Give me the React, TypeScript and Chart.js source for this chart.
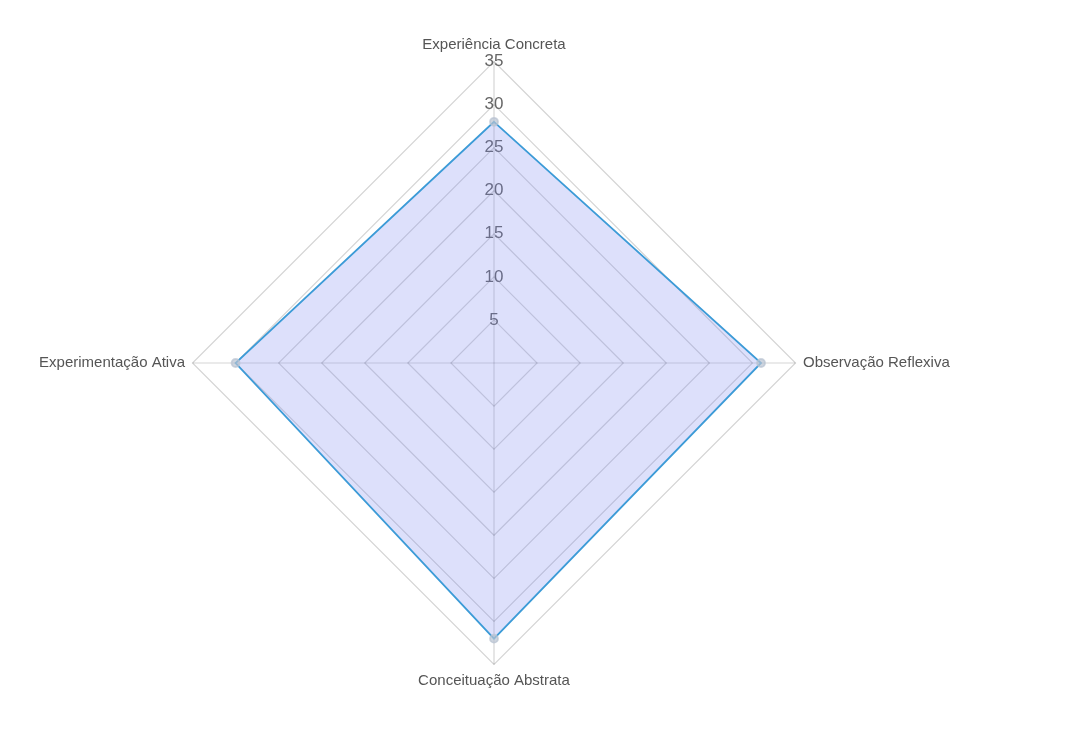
import React, { useEffect, useRef } from "react";
import { Chart, registerables } from "chart.js";

Chart.register(...registerables);

const labels = [
  "Experiência Concreta",
  "Observação Reflexiva",
  "Conceituação Abstrata",
  "Experimentação Ativa",
];
const values = [28, 31, 32, 30];
const tickMax = 35;
const tickStep = 5;

export default function App() {
  const ref = useRef<HTMLCanvasElement>(null);
  useEffect(() => {
    if (!ref.current) return;
    const chart = new Chart(ref.current, {
      type: "radar",
      data: {
        labels,
        datasets: [
          {
            label: "Estilo",
            data: values,
            backgroundColor: "rgba(120,130,240,0.25)",
            borderColor: "rgba(60,155,215,1)",
            borderWidth: 1.8,
            pointBackgroundColor: "rgba(185,195,210,0.7)",
            pointBorderColor: "rgba(185,195,210,0.7)",
            pointRadius: 4,
          },
        ],
      },
      options: {
        animation: false,
        responsive: true,
        maintainAspectRatio: false,
        layout: { padding: { top: 28, bottom: 25, left: 2, right: 0 } },
        plugins: { legend: { display: false }, tooltip: { enabled: false } },
        scales: {
          r: {
            min: 0,
            max: tickMax,
            beginAtZero: true,
            ticks: {
              stepSize: tickStep,
              showLabelBackdrop: false,
              backdropPadding: 0,
              color: "#666",
              font: { family: "Liberation Sans, Arial", size: 17 },
            },
            grid: { color: "rgba(0,0,0,0.17)", lineWidth: 1.2 },
            angleLines: { color: "rgba(0,0,0,0.17)", lineWidth: 1.2 },
            pointLabels: {
              color: "#555",
              padding: -1,
              font: { family: "Liberation Sans, Arial", size: 15 },
            },
          },
        },
      },
    });
    return () => chart.destroy();
  }, []);
  return (
    <div style={{ width: 970, height: 708 }}>
      <canvas ref={ref} />
    </div>
  );
}
